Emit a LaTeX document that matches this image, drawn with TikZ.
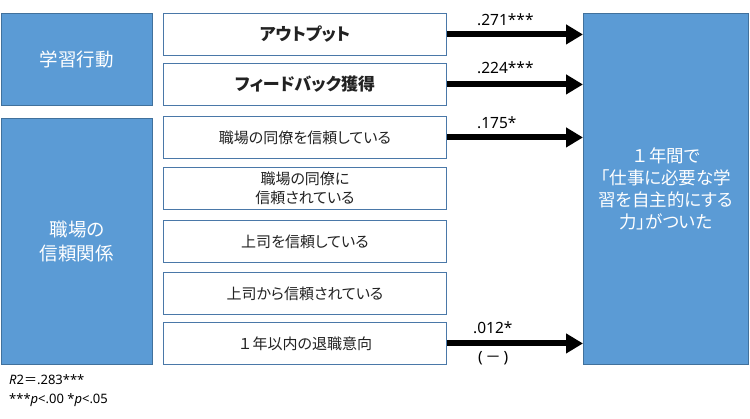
\documentclass[tikz,border=0pt]{standalone}
\usepackage{fontspec}
\setmainfont{Noto Sans}
\newfontfamily\jp[RawFeature=+palt]{Noto Sans CJK JP}
\newfontfamily\jpf{Noto Sans CJK JP}
\usetikzlibrary{arrows.meta}
\definecolor{bfill}{HTML}{5B9BD5}
\definecolor{bline}{HTML}{41719C}
\definecolor{mline}{HTML}{4A78A8}
\definecolor{txt}{HTML}{222222}
\tikzset{
  bluebox/.style={draw=bline, line width=0.9pt, fill=bfill, text=white, inner sep=0pt, anchor=north west, align=center},
  midbox/.style={draw=mline, line width=0.9pt, fill=white, text=txt, inner sep=0pt, anchor=north west, align=center,
    minimum width=283pt, minimum height=42pt, font=\jp\fontsize{15}{19}\selectfont},
  arr/.style={line width=6pt, -{Triangle[length=17pt,width=19pt]}},
  coef/.style={anchor=west, inner sep=0pt, font=\fontsize{15.5}{18}\selectfont, text=black},
  note/.style={anchor=west, inner sep=0pt, font=\fontsize{13}{15}\selectfont, text=black}
}
\begin{document}
\begin{tikzpicture}[x=1pt,y=-1pt]
\useasboundingbox (0,0) rectangle (750,419);
% left category boxes
\node[bluebox, minimum width=151pt, minimum height=92pt, font=\jp\fontsize{18.5}{22}\selectfont] (L1) at (1,13) {学習行動};
\node[bluebox, minimum width=151pt, minimum height=246pt, font=\jp\fontsize{18.5}{24}\selectfont] (L2) at (1,118) {職場の\\信頼関係};
% middle boxes
\node[midbox, font=\jp\bfseries\fontsize{17}{20}\selectfont] (m1) at (163,13) {アウトプット};
\node[midbox, font=\jp\bfseries\fontsize{17}{20}\selectfont] (m2) at (163,63) {フィードバック獲得};
\node[midbox] (m3) at (163,116) {職場の同僚を信頼している};
\node[midbox] (m4) at (163,167) {職場の同僚に\\信頼されている};
\node[midbox] (m5) at (163,220) {上司を信頼している};
\node[midbox] (m6) at (163,272) {上司から信頼されている};
\node[midbox] (m7) at (163,322) {{\jpf １}年以内の退職意向};
% outcome box
\node[bluebox, minimum width=165pt, minimum height=351pt, font=\jp\fontsize{17.5}{22}\selectfont] (R) at (583,13)
  {{\jpf １}年間で\\「仕事に必要な学\\習を自主的にする\\力」がついた};
% arrows
\draw[arr] (m1.east) -- (m1.east -| R.west);
\draw[arr] (m2.east) -- (m2.east -| R.west);
\draw[arr] (m3.east) -- (m3.east -| R.west);
\draw[arr] (m7.east) -- (m7.east -| R.west);
% coefficients
\node[coef] (c1) at (477,20) {.271***};
\node[coef] (c2) at (477,68) {.224***};
\node[coef] (c3) at (477,123) {.175*};
\node[coef] (c4) at (473,328) {.012*};
\node[coef] (c5) at (478,358) {(\,{\jp －}\,)};
% notes
\node[note] (n1) at (9,380) {\textit{R}2{\jp ＝}.283***};
\node[note] (n2) at (9,400) {***\textit{p}<.00 *\textit{p}<.05};
\end{tikzpicture}
\end{document}
